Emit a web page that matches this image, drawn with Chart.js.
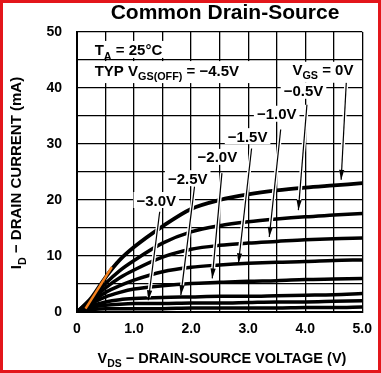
<!DOCTYPE html>
<html>
<head>
<meta charset="utf-8">
<script src="https://cdn.jsdelivr.net/npm/chart.js"></script>
<style>
  html, body { margin: 0; padding: 0; background: #fff; }
  #wrap { position: relative; width: 381px; height: 373px; }
  #frame { position: absolute; left: 0; top: 0; width: 381px; height: 373px; box-sizing: border-box; border: 3px solid #e3161b; pointer-events: none; }
</style>
</head>
<body>
<div id="wrap">
  <canvas id="myChart" width="381" height="373"></canvas>
  <div id="frame"></div>
</div>
<script>
// drain-source voltage (V) where the curves were read
var vds = [0, 0.25, 0.5, 0.75, 1.0, 1.5, 2.0, 2.5, 3.0, 3.5, 4.0, 4.5, 5.0];

// drain current (mA) for each gate-source voltage
var id_0v   = [0, 2.5, 6.2, 9.3, 11.6, 15.3, 18.4, 20.0, 21.0, 21.7, 22.2, 22.6, 23.0];
var id_m05v = [0, 2.3, 5.1, 7.4, 9.2, 12.3, 14.3, 15.4, 16.1, 16.6, 17.0, 17.3, 17.6];
var id_m10v = [0, 2.1, 4.3, 6.1, 7.5, 9.8, 11.2, 11.9, 12.3, 12.6, 12.9, 13.1, 13.2];
var id_m15v = [0, 1.8, 3.5, 4.7, 5.7, 7.2, 8.0, 8.4, 8.7, 8.9, 9.0, 9.2, 9.3];
var id_m20v = [0, 1.5, 2.7, 3.5, 4.1, 4.7, 5.1, 5.3, 5.5, 5.6, 5.8, 5.9, 6.0];
var id_m25v = [0, 1.1, 1.8, 2.2, 2.4, 2.6, 2.7, 2.8, 2.8, 2.9, 3.0, 3.1, 3.3];
var id_m30v = [0, 0.8, 1.2, 1.4, 1.5, 1.5, 1.6, 1.6, 1.7, 1.8, 1.8, 1.9, 2.0];
var id_m35v = [0, 0.4, 0.6, 0.6, 0.6, 0.6, 0.7, 0.7, 0.7, 0.7, 0.8, 0.8, 0.9];

// orange marker line near the origin
var orangeX = [0.15, 0.61];
var orangeY = [0.6, 8.0];

var xTickLabels = ['0', '1.0', '2.0', '3.0', '4.0', '5.0'];
var yTickLabels = ['0', '10', '20', '30', '40', '50'];

var vgsLabels = ['−0.5V', '−1.0V', '−1.5V', '−2.0V', '−2.5V', '−3.0V'];

// label centres and arrows, in chart units (V, mA)
var labelPos = [[3.97, 39.5], [3.5, 35.4], [2.99, 31.4], [2.46, 27.7], [1.94, 23.9], [1.39, 20.0]];
var arrows = [
  [4.72, 41.0, 4.63, 23.6],
  [4.03, 37.0, 3.88, 18.2],
  [3.57, 32.6, 3.37, 13.4],
  [3.06, 29.2, 2.83, 8.7],
  [2.54, 24.8, 2.37, 6.0],
  [2.06, 22.4, 1.82, 3.0],
  [1.45, 17.9, 1.25, 2.1]
];

var FONT = '"Liberation Sans", Arial, sans-serif';

function pts(ys) {
  return vds.map(function (x, i) { return { x: x, y: ys[i] }; });
}

function curve(ys, w) {
  return {
    data: pts(ys),
    borderColor: '#000',
    borderWidth: w,
    pointRadius: 0,
    fill: false,
    cubicInterpolationMode: 'monotone',
    order: 2
  };
}

// draw text made of pieces, some of them subscript
function drawParts(ctx, parts, x, y, size, align) {
  var w = 0;
  parts.forEach(function (p) {
    ctx.font = 'bold ' + (p.sub ? size * 0.72 : size) + 'px ' + FONT;
    p.w = ctx.measureText(p.t).width;
    w += p.w;
  });
  var cx = align === 'center' ? x - w / 2 : x;
  parts.forEach(function (p) {
    ctx.font = 'bold ' + (p.sub ? size * 0.72 : size) + 'px ' + FONT;
    ctx.fillText(p.t, cx, p.sub ? y + size * 0.3 : y);
    cx += p.w;
  });
  return { left: x - (align === 'center' ? w / 2 : 0), width: w };
}

function whiteBox(ctx, left, top, w, h) {
  ctx.fillStyle = '#fff';
  ctx.fillRect(left, top, w, h);
  ctx.fillStyle = '#000';
}

var notes = {
  id: 'notes',
  afterDatasetsDraw: function (chart) {
    var ctx = chart.ctx;
    var xs = chart.scales.x, ys = chart.scales.y;
    ctx.save();
    // arrows with white halo
    arrows.forEach(function (a) {
      var x1 = xs.getPixelForValue(a[0]), y1 = ys.getPixelForValue(a[1]);
      var x2 = xs.getPixelForValue(a[2]), y2 = ys.getPixelForValue(a[3]);
      var ang = Math.atan2(y2 - y1, x2 - x1);
      ctx.lineCap = 'butt';
      ctx.strokeStyle = '#fff';
      ctx.lineWidth = 4;
      ctx.beginPath(); ctx.moveTo(x1, y1); ctx.lineTo(x2 - 3 * Math.cos(ang), y2 - 3 * Math.sin(ang)); ctx.stroke();
      ctx.strokeStyle = '#000';
      ctx.lineWidth = 1.2;
      ctx.beginPath(); ctx.moveTo(x1, y1); ctx.lineTo(x2, y2); ctx.stroke();
      var L = 10, W = 2.6;
      ctx.fillStyle = '#000';
      ctx.beginPath();
      ctx.moveTo(x2, y2);
      ctx.lineTo(x2 - L * Math.cos(ang) + W * Math.sin(ang), y2 - L * Math.sin(ang) - W * Math.cos(ang));
      ctx.lineTo(x2 - L * Math.cos(ang) - W * Math.sin(ang), y2 - L * Math.sin(ang) + W * Math.cos(ang));
      ctx.closePath();
      ctx.fill();
    });

    ctx.textBaseline = 'alphabetic';
    ctx.fillStyle = '#000';
    var size = 15;

    // gate voltage labels
    vgsLabels.forEach(function (t, i) {
      var cx = xs.getPixelForValue(labelPos[i][0]);
      var cy = ys.getPixelForValue(labelPos[i][1]);
      ctx.font = 'bold ' + size + 'px ' + FONT;
      var w = ctx.measureText(t).width;
      whiteBox(ctx, cx - w / 2 - 3, cy - 8, w + 6, 16);
      drawParts(ctx, [{ t: t }], cx, cy + 5.5, size, 'center');
    });

    // VGS = 0V
    var gx = xs.getPixelForValue(4.31), gy = ys.getPixelForValue(42.9);
    whiteBox(ctx, gx - 36, gy - 10, 72, 21);
    drawParts(ctx, [{ t: 'V' }, { t: 'GS', sub: true }, { t: ' = 0V' }], gx, gy + 3, size, 'center');

    // temperature and pinch-off notes
    var tx = xs.getPixelForValue(0.31);
    var t1 = ys.getPixelForValue(46.8), t2 = ys.getPixelForValue(43.2);
    whiteBox(ctx, tx - 3, t1 - 9, 78, 17);
    whiteBox(ctx, tx - 3, t2 - 9, 162, 22);
    drawParts(ctx, [{ t: 'T' }, { t: 'A', sub: true }, { t: ' = 25°C' }], tx, t1 + 5.5, size, 'left');
    drawParts(ctx, [{ t: 'TYP V' }, { t: 'GS(OFF)', sub: true }, { t: ' = −4.5V' }], tx, t2 + 5.5, size, 'left');
    ctx.restore();
  },
  afterDraw: function (chart) {
    var ctx = chart.ctx;
    ctx.save();
    ctx.fillStyle = '#000';
    ctx.textBaseline = 'alphabetic';
    ctx.font = 'bold 21px ' + FONT;
    ctx.textAlign = 'left';
    var title = 'Common Drain-Source';
    var tw = ctx.measureText(title).width;
    ctx.fillText(title, 225 - tw / 2, 19);

    drawParts(ctx, [{ t: 'V' }, { t: 'DS', sub: true }, { t: ' − DRAIN-SOURCE VOLTAGE (V)' }], 222, 363, 14.5, 'center');

    ctx.translate(21, 173);
    ctx.rotate(-Math.PI / 2);
    drawParts(ctx, [{ t: 'I' }, { t: 'D', sub: true }, { t: ' − DRAIN CURRENT (mA)' }], 0, 0, 15, 'center');
    ctx.restore();
  }
};

var ctx = document.getElementById('myChart').getContext('2d');

var myChart = new Chart(ctx, {
  type: 'line',
  data: {
    datasets: [
      {
        data: orangeX.map(function (x, i) { return { x: x, y: orangeY[i] }; }),
        borderColor: '#f7821e',
        borderWidth: 2.5,
        pointRadius: 0,
        fill: false,
        order: 0
      },
      curve(id_0v, 3.8),
      curve(id_m05v, 3.5),
      curve(id_m10v, 3.5),
      curve(id_m15v, 3.5),
      curve(id_m20v, 3.5),
      curve(id_m25v, 3.5),
      curve(id_m30v, 3.5),
      curve(id_m35v, 3.5)
    ]
  },
  options: {
    responsive: false,
    devicePixelRatio: 1,
    animation: false,
    layout: { padding: { left: 0, right: 13, top: 32, bottom: 0 } },
    plugins: { legend: { display: false }, tooltip: { enabled: false }, title: { display: false } },
    scales: {
      x: {
        type: 'linear',
        min: 0,
        max: 5,
        afterFit: function (s) { s.height = 61; },
        grid: { color: '#000', lineWidth: 1.3, drawTicks: false },
        border: { color: '#000', width: 2 },
        ticks: {
          stepSize: 0.5,
          autoSkip: false,
          maxRotation: 0,
          padding: 9,
          color: '#000',
          font: { family: FONT, size: 14, weight: 'bold' },
          callback: function (v) {
            return Math.abs(v - Math.round(v)) < 1e-6 ? xTickLabels[Math.round(v)] : '';
          }
        }
      },
      y: {
        min: 0,
        max: 50,
        afterFit: function (s) { s.width = 77; },
        grid: { color: '#000', lineWidth: 1.3, drawTicks: false },
        border: { color: '#000', width: 2 },
        ticks: {
          stepSize: 5,
          autoSkip: false,
          padding: 15,
          color: '#000',
          font: { family: FONT, size: 14, weight: 'bold' },
          callback: function (v) {
            return v % 10 === 0 ? yTickLabels[v / 10] : '';
          }
        }
      }
    }
  },
  plugins: [notes]
});
</script>
</body>
</html>
